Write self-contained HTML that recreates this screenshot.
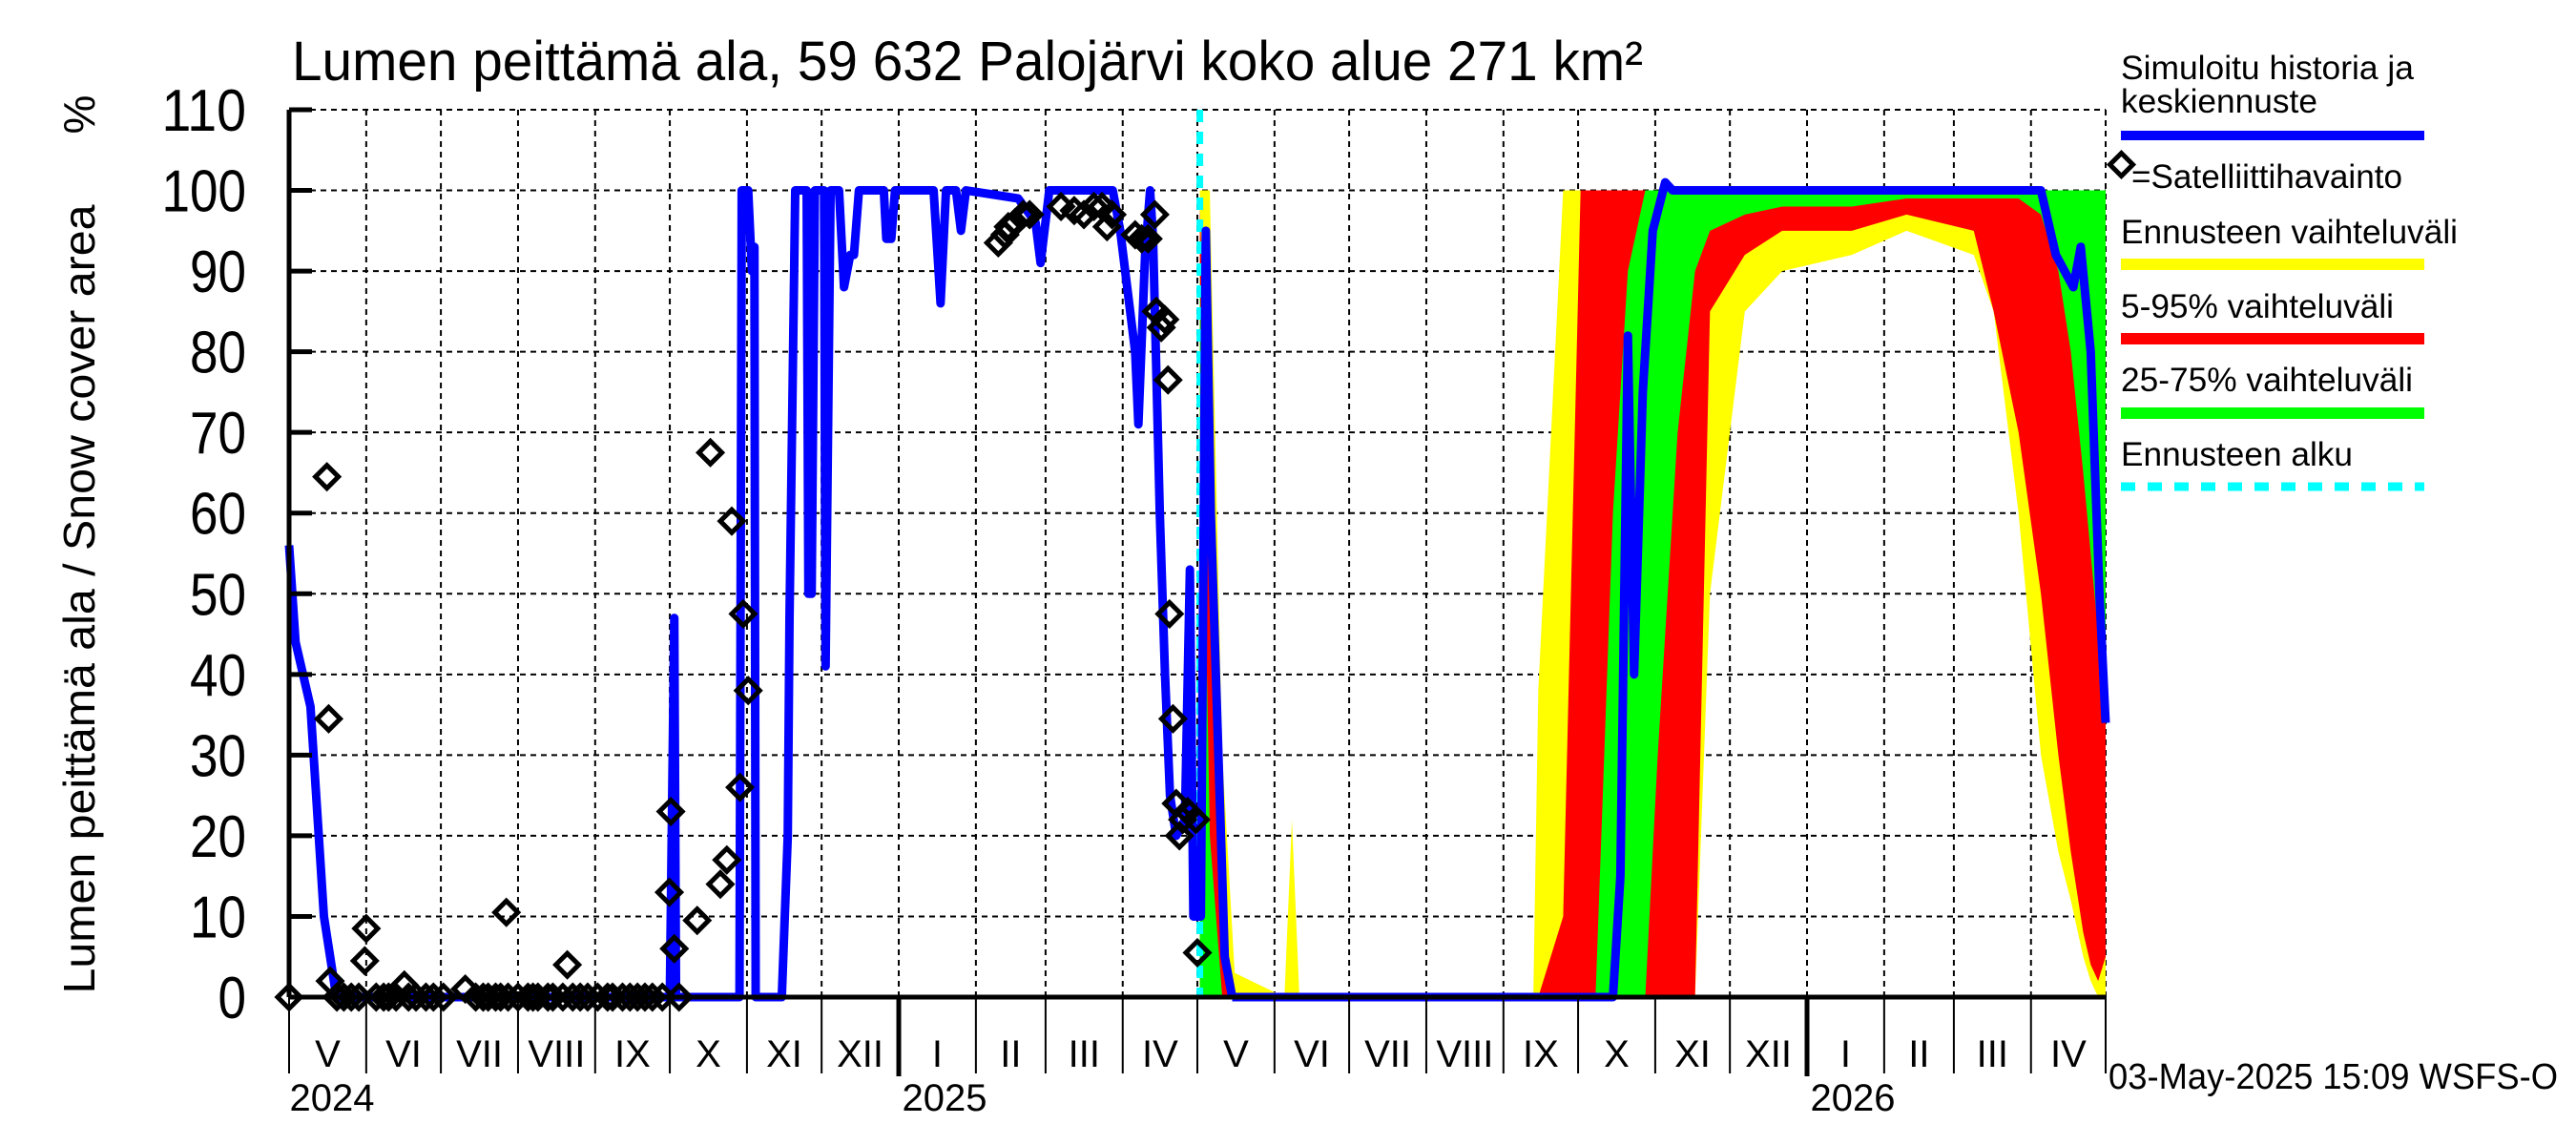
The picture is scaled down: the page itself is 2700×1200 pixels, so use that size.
<!DOCTYPE html>
<html><head><meta charset="utf-8"><style>
html,body{margin:0;padding:0;background:#fff;}
svg{display:block;font-family:"Liberation Sans",sans-serif;}
</style></head><body>
<svg id="chart" width="2700" height="1200" viewBox="0 0 2700 1200" xmlns="http://www.w3.org/2000/svg">
<text x="306" y="84" font-size="58" textLength="1416" lengthAdjust="spacingAndGlyphs">Lumen peittämä ala, 59 632 Palojärvi koko alue 271 km²</text>
<g id="grid"></g>
<g id="bands"></g>
<g id="lines"></g>
<g id="axes"></g>
<g id="points"></g>
<text transform="translate(99,628) rotate(-90)" text-anchor="middle" font-size="46" textLength="827" lengthAdjust="spacingAndGlyphs">Lumen peittämä ala / Snow cover area</text>
<text transform="translate(99,120) rotate(-90)" text-anchor="middle" font-size="46">%</text>
<text x="2210" y="1141" font-size="38" textLength="471" lengthAdjust="spacingAndGlyphs">03-May-2025 15:09 WSFS-O</text>
<g font-size="35">
<text x="2223" y="83" textLength="307" lengthAdjust="spacingAndGlyphs">Simuloitu historia ja</text>
<text x="2223" y="118" textLength="206" lengthAdjust="spacingAndGlyphs">keskiennuste</text>
<rect x="2223" y="137" width="318" height="10" fill="#0000ff"/>
<rect x="2215" y="164" width="17" height="17" transform="rotate(45 2223.5 172.5)" fill="none" stroke="#000" stroke-width="5"/>
<text x="2234" y="197" textLength="284" lengthAdjust="spacingAndGlyphs">=Satelliittihavainto</text>
<text x="2223" y="255" textLength="353" lengthAdjust="spacingAndGlyphs">Ennusteen vaihteluväli</text>
<rect x="2223" y="271" width="318" height="12" fill="#ffff00"/>
<text x="2223" y="333" textLength="286" lengthAdjust="spacingAndGlyphs">5-95% vaihteluväli</text>
<rect x="2223" y="349" width="318" height="12" fill="#ff0000"/>
<text x="2223" y="410" textLength="306" lengthAdjust="spacingAndGlyphs">25-75% vaihteluväli</text>
<rect x="2223" y="427" width="318" height="12" fill="#00ff00"/>
<text x="2223" y="488" textLength="243" lengthAdjust="spacingAndGlyphs">Ennusteen alku</text>
<line x1="2223" y1="510" x2="2541" y2="510" stroke="#00ffff" stroke-width="9" stroke-dasharray="15,13"/>
</g>
</svg>
<script>
// ---- data (days since 1 May 2024, values in %) ----
const yTicks = [0,10,20,30,40,50,60,70,80,90,100,110];
const monthStarts = [0,31,61,92,123,153,184,214,245,276,304,335,365,396,426,457,488,518,549,579,610,641,669,700,730];
const monthLabels = ["V","VI","VII","VIII","IX","X","XI","XII","I","II","III","IV","V","VI","VII","VIII","IX","X","XI","XII","I","II","III","IV"];
const yearLabels = ["2024","2025","2026"];
const yearDays = [0,245,610];
const forecastStart = 366;

const histDays = [0,2.6,8.6,14,19,150,153,154.8,155.5,181,181.9,184.5,186,187,187.5,198,200.4,201.1,203.4,208,208.7,210,211.3,215,215.6,217.6,221,223,225.5,227,229,239,240,242,243.5,259,261.8,264,268,270,272,293,300,302,305.5,331,334,338,340,341.3,344,346,347.2,349.9,352,354,356.5,360,362,363.4,366.4,368.4,370.4,376,379];
const histVals = [56,44,36,10,0,0,0,47,0,0,100,100,90,93,0,0,20,47,100,100,50,50,100,100,41,100,100,88,92,92,100,100,94,94,100,100,86,100,100,95,100,99,96,91,100,100,95,85,80,71,92,100,94,60,40,25,20,22,53,10,10,95,60,5,0];
const medDays = [379,532,535,538,540.5,544,548,553,556,704,710,717,720,724,727.5,730];
const medVals = [0,0,15,82,40,75,95,101,100,100,92,88,93,80,50,34];

const bandDays = [366,370,375,380,400,403,406,410,500,502,512,519,525,532,538,545,550,558,565,571,585,600,628,650,677,685,695,704,711,716,721,724,727,730];
const yelUpper = [100,100,30,3,0,22,0,0,0,38,100,100,100,100,100,100,100,100,100,100,100,100,100,100,100,100,100,100,100,100,100,100,100,100];
const yelLower = [0,0,0,0,0,0,0,0,0,0,0,0,0,0,0,0,0,0,0,50,85,90,92,95,92,85,60,30,18,12,5,2,0,0];
const redUpper = [98,60,5,0,0,0,0,0,0,0,10,100,100,100,100,100,100,100,100,100,100,100,100,100,100,100,100,100,100,100,100,100,100,100];
const redLower = [0,0,0,0,0,0,0,0,0,0,0,0,0,0,0,0,0,0,0,85,92,95,95,97,95,85,70,50,30,18,8,4,2,5];
const grnUpper = [90,20,0,0,0,0,0,0,0,0,0,0,0,60,90,100,100,100,100,100,100,100,100,100,100,100,100,100,100,100,100,100,100,100];
const grnLower = [0,0,0,0,0,0,0,0,0,0,0,0,0,0,0,0,30,70,90,95,97,98,98,99,99,99,99,97,90,80,65,55,45,35];

const satDays = [0,15.2,15.9,16.5,19.2,22,25,28,30.4,31,35,38,40,43,46.3,48,51,55,58,62,70.8,75,78,80,83,85,87.3,88,92,96,98,100,104,106,110,111.8,114,117,120,124,128,130,134,137,140,143,146,150,152.8,153.4,154.8,156.7,164,169.3,173.3,175.9,177.9,181.2,182.5,184.5,285,287.7,289,291.7,295,297.6,310.2,315.5,319.4,323.4,326.7,328.7,330.7,340,342.6,345.2,347.9,348.5,350.5,351.9,353.2,353.8,355.2,356.5,357.8,359.1,361.1,364.4,365];
const satVals = [0,64.5,34.5,2,0,0,0,0,4.5,8.5,0,0,0,0,1.5,0,0,0,0,0,1,0,0,0,0,0,10.5,0,0,0,0,0,0,0,0,4,0,0,0,0,0,0,0,0,0,0,0,0,13,23,6,0,9.5,67.5,14,17,59,26,47.5,38,93.5,94.5,95.5,96,97,97,98,97.5,97,98,98,95.5,97,94.5,94,94,97,85,83,84,76.5,47.5,34.5,24,20,22,23,22,5.5,6,2];

// ---- scales ----
const X0=303, X1=2207, Y0=1045, YTOP=115, DAYS=730;
const xs = d => X0 + d*(X1-X0)/DAYS;
const ys = v => Y0 - v*(Y0-YTOP)/110;
const NS="http://www.w3.org/2000/svg";
function mk(parent,tag,attrs){const e=document.createElementNS(NS,tag);for(const k in attrs)e.setAttribute(k,attrs[k]);document.getElementById(parent).appendChild(e);return e;}

// grid
yTicks.forEach(v=>{ if(v===0) return;
  const l=mk('grid','line',{x1:X0,x2:X1,y1:ys(v),y2:ys(v),stroke:'#000','stroke-width':2,'stroke-dasharray':'6,5'});
  
  
});
monthStarts.forEach(d=>{ if(d===0) return;
  const l=mk('grid','line',{x1:xs(d),x2:xs(d),y1:YTOP,y2:Y0,stroke:'#000','stroke-width':2,'stroke-dasharray':'6,5'});
  
  
});

// bands
function band(up,lo,color,name){
  let pts=bandDays.map((d,i)=>xs(d)+','+ys(up[i]));
  for(let i=bandDays.length-1;i>=0;i--) pts.push(xs(bandDays[i])+','+ys(lo[i]));
  const p=mk('bands','polygon',{points:pts.join(' '),fill:color});
  
  
}
band(yelUpper,yelLower,'#ffff00','band-range');
band(redUpper,redLower,'#ff0000','band-5-95');
band(grnUpper,grnLower,'#00ff00','band-25-75');

// lines
const fl=mk('lines','line',{x1:xs(forecastStart),x2:xs(forecastStart),y1:ys(110),y2:Y0,stroke:'#00ffff','stroke-width':7,'stroke-dasharray':'13,10'});


function poly(days,vals,name){
  const p=mk('lines','polyline',{points:days.map((d,i)=>xs(d)+','+ys(vals[i])).join(' '),fill:'none',stroke:'#0000ff','stroke-width':9,'stroke-linejoin':'round'});
  
  
}
poly(histDays,histVals,'simulated-history-line');
poly(medDays,medVals,'median-forecast-line');

// axes
const ax=mk('axes','line',{x1:X0,x2:X0,y1:YTOP,y2:Y0,stroke:'#000','stroke-width':5});


const bx=mk('axes','line',{x1:X0,x2:X1,y1:Y0,y2:Y0,stroke:'#000','stroke-width':5});


yTicks.forEach(v=>{
  const t=mk('axes','line',{x1:X0,x2:X0+24,y1:ys(v),y2:ys(v),stroke:'#000','stroke-width':5});
  
  
  const s=String(v);
  const tx=mk('axes','text',{x:258,y:ys(v)+22,'font-size':62,'text-anchor':'end',textLength:s.length*29.5,lengthAdjust:'spacingAndGlyphs'});
  tx.textContent=s;
  
  
});
monthStarts.forEach((d,i)=>{
  const thick = (d===245||d===610);
  const t=mk('axes','line',{x1:xs(d),x2:xs(d),y1:Y0,y2:thick?1128:1125,stroke:'#000','stroke-width':thick?5:2});
  
  
  if(i<monthLabels.length){
    const tx=mk('axes','text',{x:(xs(d)+xs(monthStarts[i+1]))/2,y:1118,'font-size':40,'text-anchor':'middle'});
    tx.textContent=monthLabels[i];
    
    
  }
});
yearLabels.forEach((y,i)=>{
  const tx=mk('axes','text',{x:xs(yearDays[i])+(i===0?45:48),y:1164,'font-size':40,'text-anchor':'middle'});
  tx.textContent=y;
  
  
});

// satellite points
satDays.forEach((d,i)=>{
  const cx=xs(d), cy=ys(satVals[i]);
  const r=mk('points','rect',{x:cx-8.5,y:cy-8.5,width:17,height:17,fill:'none',stroke:'#000','stroke-width':5,transform:'rotate(45 '+cx+' '+cy+')'});
  
  
});
</script>
</body></html>
